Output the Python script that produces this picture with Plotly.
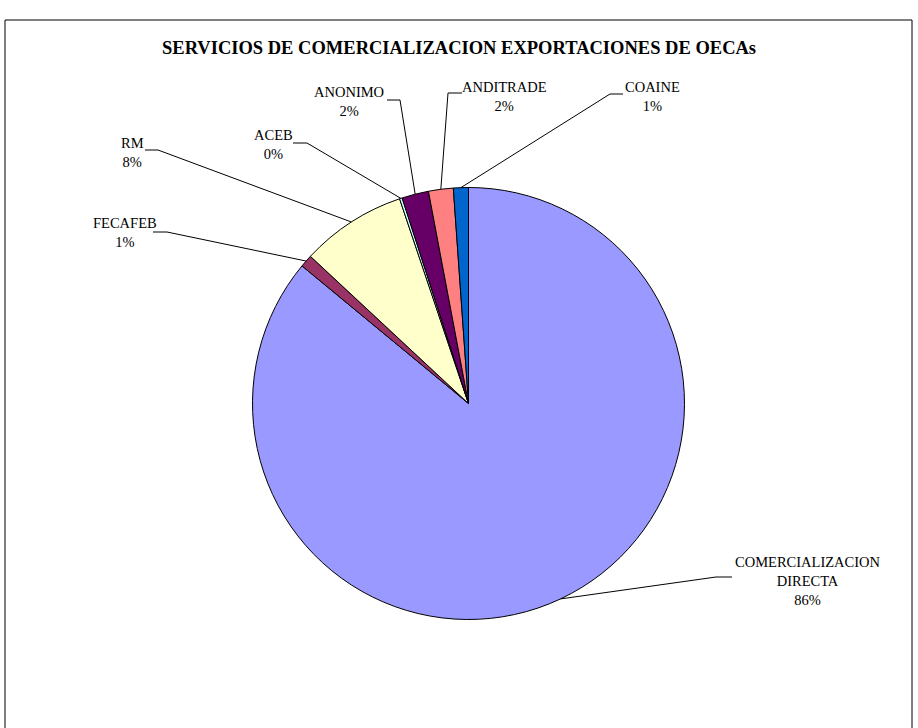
import math
import plotly.graph_objects as go

# ---- data ----
labels = ["COMERCIALIZACION DIRECTA", "FECAFEB", "RM", "ACEB", "ANONIMO", "ANDITRADE", "COAINE"]
values = [86.0, 0.94, 7.9, 0.2, 2.0, 1.85, 1.12]
colors = ["#9999FF", "#993366", "#FFFFCC", "#CCFFFF", "#660066", "#FF8080", "#0066CC"]
title_text = "SERVICIOS DE COMERCIALIZACION EXPORTACIONES DE OECAs"

# ---- layout constants (pixels) ----
W, H = 918, 728
CX, CY, R = 468.5, 403.5, 216
# label placement: text centre (x, y), leader start at text, elbow point
label_layout = {
    "COMERCIALIZACION DIRECTA": dict(tx=808, ty=581, p1=(732, 577), p2=(716, 577)),
    "FECAFEB": dict(tx=125, ty=232.5, p1=(153, 232), p2=(167, 232)),
    "RM": dict(tx=132, ty=152.5, p1=(145, 150), p2=(158, 150)),
    "ACEB": dict(tx=273, ty=144.5, p1=(293, 143), p2=(307, 143)),
    "ANONIMO": dict(tx=349, ty=101.5, p1=(387, 100), p2=(400, 100)),
    "ANDITRADE": dict(tx=504, ty=96.5, p1=(462, 93), p2=(448, 93)),
    "COAINE": dict(tx=652, ty=97, p1=(623, 94), p2=(610, 94)),
}
LABEL_FONT = 14.5
TITLE_FONT = 18.5

def px(x):
    return x / W

def py(y):
    return 1 - y / H

fig = go.Figure()
fig.add_trace(go.Pie(
    labels=labels,
    values=values,
    sort=False,
    direction="clockwise",
    rotation=0,
    textinfo="none",
    marker=dict(colors=colors, line=dict(color="black", width=1)),
    showlegend=False,
    domain=dict(x=[px(CX - R), px(CX + R)], y=[py(CY + R), py(CY - R)]),
))

total = sum(values)
annotations = []
shapes = []
cum = 0.0
for name, v in zip(labels, values):
    mid = (cum + v / 2) / total * 2 * math.pi
    cum += v
    ex = CX + R * math.sin(mid)
    ey = CY - R * math.cos(mid)
    lay = label_layout[name]
    pct = round(100 * v / total)
    annotations.append(dict(
        x=px(lay["tx"]), y=py(lay["ty"]), xref="paper", yref="paper",
        xanchor="center", yanchor="middle", showarrow=False, align="center",
        text=name.replace(" ", "<br>") + "<br>" + f"{pct}%",
        font=dict(family="Liberation Serif", size=LABEL_FONT, color="black"),
    ))
    (x1, y1), (x2, y2) = lay["p1"], lay["p2"]
    shapes.append(dict(
        type="path", xref="paper", yref="paper",
        path=f"M {px(x1)} {py(y1)} L {px(x2)} {py(y2)} L {px(ex)} {py(ey)}",
        line=dict(color="black", width=1),
    ))

# chart border
shapes.append(dict(type="rect", xref="paper", yref="paper",
                   x0=px(5), x1=px(912), y0=py(740), y1=py(20),
                   line=dict(color="black", width=1), fillcolor="rgba(0,0,0,0)"))

annotations.append(dict(
    x=px(459), y=py(48), xref="paper", yref="paper", xanchor="center", yanchor="middle",
    showarrow=False, text=f"<b>{title_text}</b>",
    font=dict(family="Liberation Serif", size=TITLE_FONT, color="black"),
))

fig.update_layout(
    width=W, height=H,
    margin=dict(l=0, r=0, t=0, b=0),
    paper_bgcolor="white", plot_bgcolor="white",
    annotations=annotations, shapes=shapes,
)

fig.write_html("out.html")
